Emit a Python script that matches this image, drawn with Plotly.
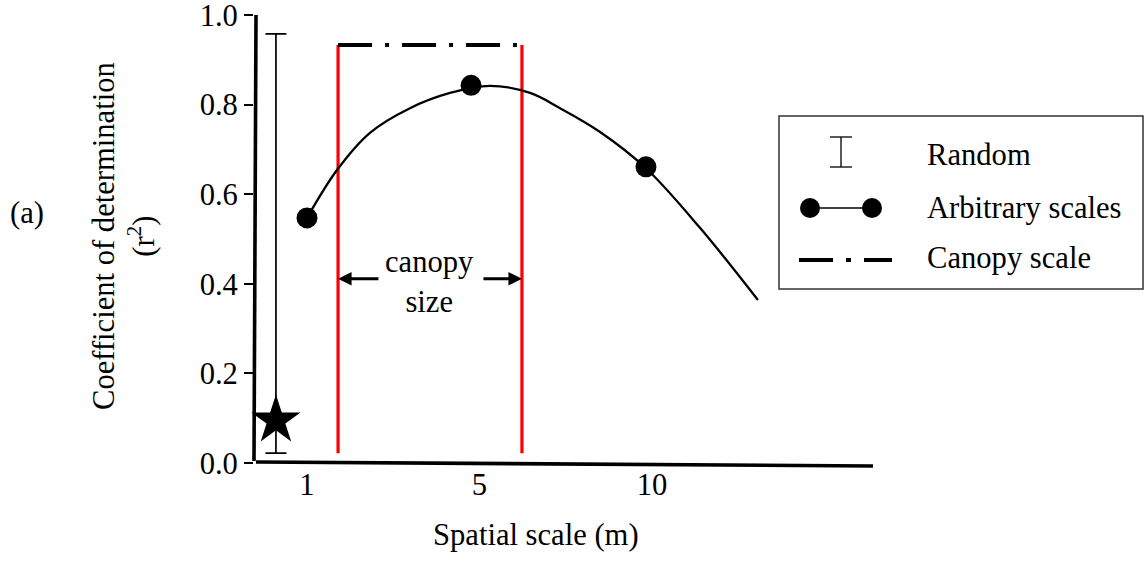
import plotly.graph_objects as go

W, H = 1145, 562

# ---------------- data ----------------
x_tick_vals = [1, 2, 3]
x_tick_labels = ["1", "5", "10"]
y_tick_vals = [0.0, 0.2, 0.4, 0.6, 0.8, 1.0]
y_tick_labels = ["0.0", "0.2", "0.4", "0.6", "0.8", "1.0"]

# arbitrary scales (points)
arb_x = [1.0, 1.951, 2.965]
arb_r2 = [0.547, 0.843, 0.661]

# arbitrary scales (fitted curve)
curve_x = [1.000, 1.174, 1.365, 1.597, 1.829, 2.061, 2.293, 2.467, 2.699, 2.965, 3.278, 3.614]
curve_r2 = [0.547, 0.654, 0.737, 0.792, 0.826, 0.842, 0.826, 0.792, 0.739, 0.658, 0.525, 0.364]

# random
random_x = [0.820]
random_r2 = [0.095]
random_err_plus = [0.863]
random_err_minus = [0.073]

# canopy scale
canopy_bounds = [1.180, 2.246]
canopy_line_end = 2.217
canopy_r2 = 0.933
canopy_floor = 0.022
arrow_r2 = 0.411
arrow_tails = [1.423, 2.014]
canopy_label_x = 1.713
canopy_label_r2 = 0.403

FONT = "Liberation Serif"
FS = 30.6


def px(p):
    return p / W


def py(p):
    return 1 - p / H


fig = go.Figure()

# red canopy bounds
rx, ry = [], []
for b in canopy_bounds:
    rx += [b, b, None]
    ry += [canopy_floor, canopy_r2, None]
fig.add_trace(go.Scatter(x=rx, y=ry, mode="lines",
                         line=dict(color="#ff0000", width=3.2), hoverinfo="skip"))

# canopy scale dash-dot line
fig.add_trace(go.Scatter(x=[canopy_bounds[0], canopy_line_end], y=[canopy_r2, canopy_r2],
                         mode="lines", line=dict(color="black", width=4, dash="34px,13px,4px,13px")))

# curve
fig.add_trace(go.Scatter(x=curve_x, y=curve_r2, mode="lines",
                         line=dict(color="black", width=2.3, shape="spline", smoothing=1.0)))

# arbitrary points
fig.add_trace(go.Scatter(x=arb_x, y=arb_r2, mode="markers", cliponaxis=False,
                         marker=dict(size=21, color="black")))

# random
fig.add_trace(go.Scatter(x=random_x, y=random_r2, mode="markers", cliponaxis=False,
                         marker=dict(symbol="star", size=37, color="black"),
                         error_y=dict(type="data", symmetric=False, array=random_err_plus,
                                      arrayminus=random_err_minus, color="black",
                                      thickness=1.7, width=10.5)))

txtfont = dict(family=FONT, size=FS, color="black")
annotations = []
# canopy size arrows
for head, tail in zip(canopy_bounds, arrow_tails):
    annotations.append(dict(x=head, y=arrow_r2, ax=tail, ay=arrow_r2, xref="x", yref="y",
                            axref="x", ayref="y", text="", showarrow=True, arrowhead=2,
                            arrowsize=0.9, arrowwidth=3, arrowcolor="black", standoff=0))
annotations.append(dict(x=canopy_label_x, y=canopy_label_r2, xref="x", yref="y",
                        xanchor="center", yanchor="middle",
                        text="canopy<br>size", showarrow=False, font=txtfont))

# axis titles and panel label
annotations.append(dict(x=px(536), y=py(535), xref="paper", yref="paper",
                        xanchor="center", yanchor="middle",
                        text="Spatial scale (m)", showarrow=False, font=txtfont))
annotations.append(dict(x=px(124), y=py(236), xref="paper", yref="paper",
                        xanchor="center", yanchor="middle",
                        text="Coefficient of determination<br>(r<sup>2</sup>)", showarrow=False,
                        textangle=-90, font=txtfont))
annotations.append(dict(x=px(27), y=py(213), xref="paper", yref="paper",
                        xanchor="center", yanchor="middle",
                        text="(a)", showarrow=False, font=txtfont))

# legend texts
for label, yc in zip(["Random", "Arbitrary scales", "Canopy scale"], [155, 208, 258]):
    annotations.append(dict(x=px(925), y=py(yc), xref="paper", yref="paper",
                            xanchor="left", yanchor="middle",
                            text=label, showarrow=False, font=txtfont))

shapes = []
# hand-drawn axis lines
shapes.append(dict(type="line", xref="paper", yref="paper", x0=px(256), y0=py(15),
                   x1=px(254), y1=py(461), line=dict(color="black", width=3.6)))
shapes.append(dict(type="line", xref="paper", yref="paper", x0=px(256), y0=py(462),
                   x1=px(873), y1=py(466), line=dict(color="black", width=3.6)))

# legend box
shapes.append(dict(type="rect", xref="paper", yref="paper", x0=px(779), y0=py(116),
                   x1=px(1143), y1=py(289), line=dict(color="#333333", width=1.5)))
# legend: random glyph
shapes.append(dict(type="line", xref="paper", yref="paper", x0=px(841), y0=py(137),
                   x1=px(841), y1=py(167), line=dict(color="black", width=1.3)))
for yy in [137, 167]:
    shapes.append(dict(type="line", xref="paper", yref="paper", x0=px(830), y0=py(yy),
                       x1=px(852), y1=py(yy), line=dict(color="black", width=1.3)))
# legend: arbitrary glyph
shapes.append(dict(type="line", xref="paper", yref="paper", x0=px(810), y0=py(208),
                   x1=px(872), y1=py(208), line=dict(color="black", width=1.5)))
for xx in [810, 872]:
    shapes.append(dict(type="circle", xref="paper", yref="paper", x0=px(xx - 10), y0=py(198),
                       x1=px(xx + 10), y1=py(218), fillcolor="black", line=dict(width=0)))
# legend: canopy glyph
shapes.append(dict(type="line", xref="paper", yref="paper", x0=px(799), y0=py(260),
                   x1=px(892), y1=py(260),
                   line=dict(color="black", width=4, dash="34px,13px,5px,13px")))

fig.update_layout(
    width=W, height=H,
    margin=dict(l=0, r=0, t=0, b=0, autoexpand=False),
    paper_bgcolor="white", plot_bgcolor="white",
    showlegend=False,
    font=dict(family=FONT, size=FS, color="black"),
    xaxis=dict(domain=[254 / W, 873 / W], range=[0.6928, 4.281], showgrid=False,
               zeroline=False, showline=False, tickvals=x_tick_vals, ticktext=x_tick_labels,
               ticks="", tickfont=txtfont, ticklabeloverflow="allow", automargin=False),
    yaxis=dict(domain=[(H - 463) / H, (H - 15) / H], range=[0, 1], showgrid=False,
               zeroline=False, showline=False, tickvals=y_tick_vals, ticktext=y_tick_labels,
               ticks="outside", ticklen=9, tickwidth=1.5, tickcolor="black",
               tickfont=txtfont, ticklabeloverflow="allow", automargin=False),
    shapes=shapes,
    annotations=annotations,
)

post = (
    "var de=document.documentElement, b=document.body;"
    "de.style.margin='0'; de.style.padding='0'; de.style.overflow='hidden';"
    "b.style.margin='0'; b.style.padding='0'; b.style.overflow='hidden';"
)
fig.write_html("out.html", config={"displayModeBar": False}, post_script=post)
